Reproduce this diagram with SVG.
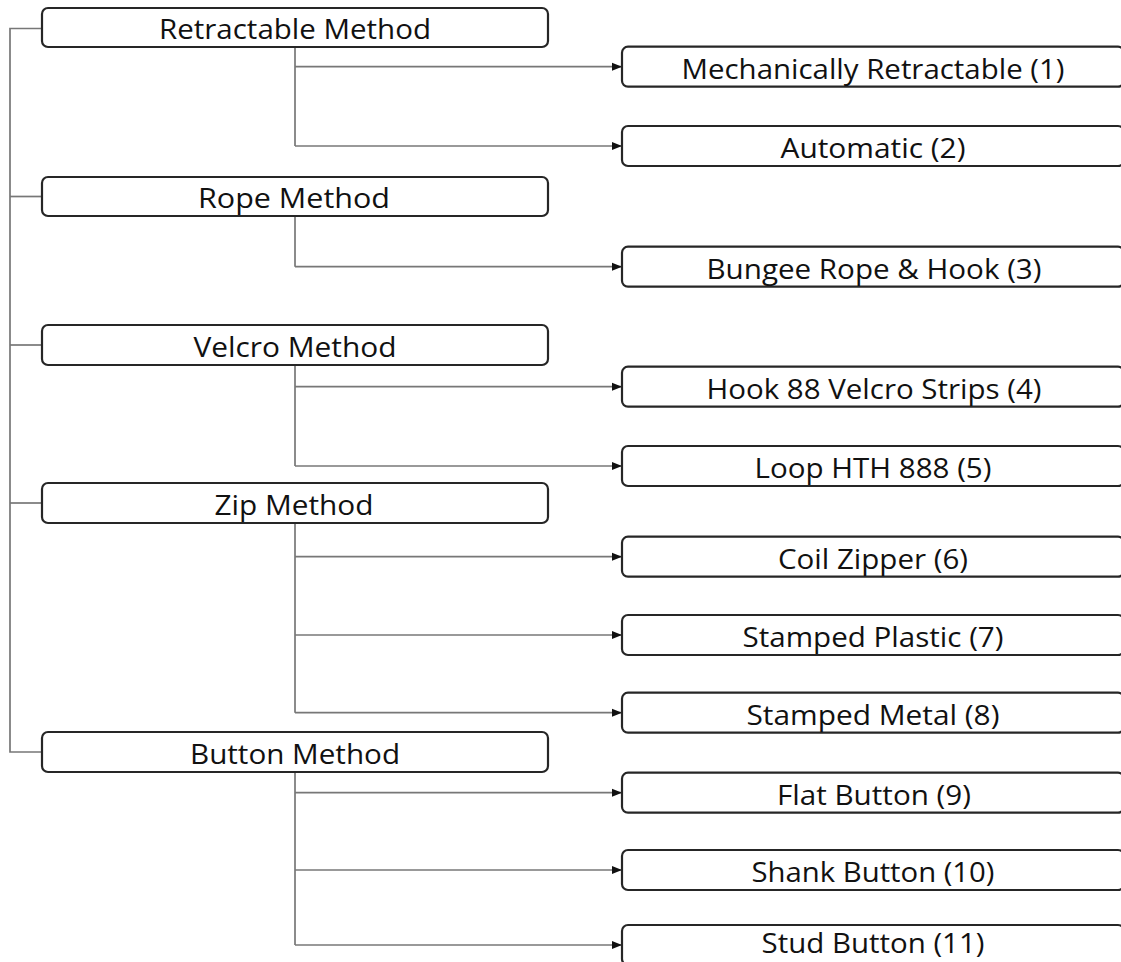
<svg xmlns="http://www.w3.org/2000/svg" width="1121" height="962" viewBox="0 0 1121 962">
  <style>
    .box { fill: #ffffff; stroke: #262626; stroke-width: 2.2; }
    .lbl { font-family: "Open Sans", "Liberation Sans", sans-serif; font-size: 27px; fill: #111111; text-anchor: middle; }
    .conn { fill: none; stroke: #777777; stroke-width: 1.7; }
    .arr { fill: none; stroke: #777777; stroke-width: 1.7; marker-end: url(#tip); }
  </style>
  <defs>
    <marker id="tip" markerUnits="userSpaceOnUse" markerWidth="11" markerHeight="9" refX="10" refY="4.5" orient="auto">
      <path d="M0,0.5 L10,4.5 L0,8.5 Z" fill="#111111"/>
    </marker>
  </defs>

  <rect width="1121" height="962" fill="#ffffff"/>

  <!-- connectors -->
  <g id="connectors">
    <!-- trunk joining the five methods -->
    <path class="conn" d="M42,28.5 H10 V752 H42"/>
    <path class="conn" d="M10,196.5 H42"/>
    <path class="conn" d="M10,345 H42"/>
    <path class="conn" d="M10,503 H42"/>

    <!-- Retractable Method branches -->
    <path class="conn" d="M295,47 V146"/>
    <path class="arr" d="M295,66.7 H622"/>
    <path class="arr" d="M295,146 H622"/>

    <!-- Rope Method branch -->
    <path class="conn" d="M295,216 V266.7"/>
    <path class="arr" d="M295,266.7 H622"/>

    <!-- Velcro Method branches -->
    <path class="conn" d="M295,365 V466"/>
    <path class="arr" d="M295,386.7 H622"/>
    <path class="arr" d="M295,466 H622"/>

    <!-- Zip Method branches -->
    <path class="conn" d="M295,523 V712.7"/>
    <path class="arr" d="M295,556.7 H622"/>
    <path class="arr" d="M295,635 H622"/>
    <path class="arr" d="M295,712.7 H622"/>

    <!-- Button Method branches -->
    <path class="conn" d="M295,772 V945"/>
    <path class="arr" d="M295,792.7 H622"/>
    <path class="arr" d="M295,870 H622"/>
    <path class="arr" d="M295,945 H622"/>
  </g>

  <!-- method nodes -->
  <g id="retractable-method">
    <rect class="box" x="42" y="8" width="506" height="39" rx="6"/>
    <text class="lbl" x="295" y="38.5" textLength="272" lengthAdjust="spacingAndGlyphs">Retractable Method</text>
  </g>
  <g id="rope-method">
    <rect class="box" x="42" y="177" width="506" height="39" rx="6"/>
    <text class="lbl" x="294" y="207.5" textLength="192" lengthAdjust="spacingAndGlyphs">Rope Method</text>
  </g>
  <g id="velcro-method">
    <rect class="box" x="42" y="325" width="506" height="40" rx="6"/>
    <text class="lbl" x="295" y="356.5" textLength="203" lengthAdjust="spacingAndGlyphs">Velcro Method</text>
  </g>
  <g id="zip-method">
    <rect class="box" x="42" y="483" width="506" height="40" rx="6"/>
    <text class="lbl" x="294" y="514.5" textLength="159" lengthAdjust="spacingAndGlyphs">Zip Method</text>
  </g>
  <g id="button-method">
    <rect class="box" x="42" y="732" width="506" height="40" rx="6"/>
    <text class="lbl" x="295" y="763.5" textLength="210" lengthAdjust="spacingAndGlyphs">Button Method</text>
  </g>

  <!-- type nodes -->
  <g id="mechanically-retractable">
    <rect class="box" x="622" y="46.7" width="502" height="40" rx="6"/>
    <text class="lbl" x="873" y="78.5" textLength="383" lengthAdjust="spacingAndGlyphs">Mechanically Retractable (1)</text>
  </g>
  <g id="automatic">
    <rect class="box" x="622" y="126" width="502" height="40" rx="6"/>
    <text class="lbl" x="873" y="157.5" textLength="185" lengthAdjust="spacingAndGlyphs">Automatic (2)</text>
  </g>
  <g id="bungee-rope-hook">
    <rect class="box" x="622" y="246.7" width="502" height="40" rx="6"/>
    <text class="lbl" x="874" y="278.5" textLength="335" lengthAdjust="spacingAndGlyphs">Bungee Rope &amp; Hook (3)</text>
  </g>
  <g id="hook-velcro-strips">
    <rect class="box" x="622" y="366.7" width="502" height="40" rx="6"/>
    <text class="lbl" x="874" y="398.5" textLength="335" lengthAdjust="spacingAndGlyphs">Hook 88 Velcro Strips (4)</text>
  </g>
  <g id="loop-hth">
    <rect class="box" x="622" y="446" width="502" height="40" rx="6"/>
    <text class="lbl" x="873" y="477.5" textLength="237" lengthAdjust="spacingAndGlyphs">Loop HTH 888 (5)</text>
  </g>
  <g id="coil-zipper">
    <rect class="box" x="622" y="536.7" width="502" height="40" rx="6"/>
    <text class="lbl" x="873" y="568.5" textLength="190" lengthAdjust="spacingAndGlyphs">Coil Zipper (6)</text>
  </g>
  <g id="stamped-plastic">
    <rect class="box" x="622" y="615" width="502" height="40" rx="6"/>
    <text class="lbl" x="873" y="646.5" textLength="261" lengthAdjust="spacingAndGlyphs">Stamped Plastic (7)</text>
  </g>
  <g id="stamped-metal">
    <rect class="box" x="622" y="692.7" width="502" height="40" rx="6"/>
    <text class="lbl" x="873" y="724.5" textLength="253" lengthAdjust="spacingAndGlyphs">Stamped Metal (8)</text>
  </g>
  <g id="flat-button">
    <rect class="box" x="622" y="772.7" width="502" height="40" rx="6"/>
    <text class="lbl" x="874" y="804.5" textLength="194" lengthAdjust="spacingAndGlyphs">Flat Button (9)</text>
  </g>
  <g id="shank-button">
    <rect class="box" x="622" y="850" width="502" height="40" rx="6"/>
    <text class="lbl" x="873" y="881.5" textLength="243" lengthAdjust="spacingAndGlyphs">Shank Button (10)</text>
  </g>
  <g id="stud-button">
    <rect class="box" x="622" y="925" width="502" height="40" rx="6"/>
    <text class="lbl" x="873" y="953" textLength="223" lengthAdjust="spacingAndGlyphs">Stud Button (11)</text>
  </g>
</svg>
